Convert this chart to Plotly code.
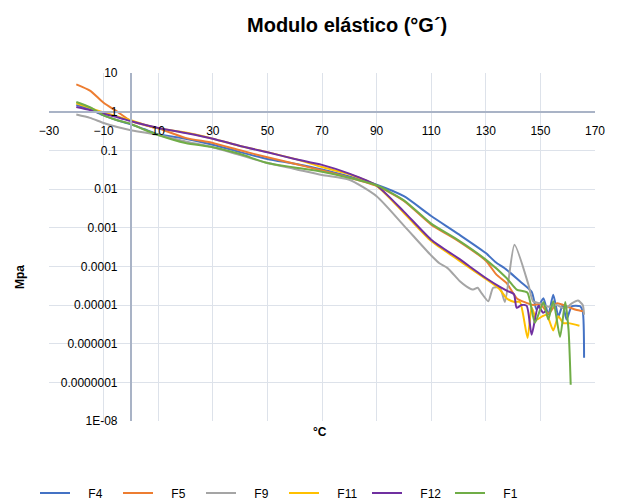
import plotly.graph_objects as go

# ---------------- data (temperature °C, modulus MPa) ----------------
temp_main = [-20, -15, -10, -5, 0, 5, 10, 20, 30, 40, 50, 60, 70, 80, 90, 100, 110, 120, 130]

f4_main = [1.5, 1.15, 0.8, 0.6, 0.47, 0.35, 0.26, 0.2, 0.14, 0.09, 0.06, 0.045, 0.032, 0.021, 0.0129, 0.0065, 0.002, 0.00068, 0.00022]
f4_tail_x = [133.5, 137.6, 142.5, 146.8, 148.6, 151.1, 152.9, 154.7, 156.6, 158.2, 159.6, 161.5, 164.5, 165.5, 166]
f4_tail_y = [1.3e-4, 8.2e-5, 4.1e-5, 2.2e-5, 7.6e-6, 1.5e-5, 5.6e-6, 1.85e-5, 5.1e-6, 1.02e-5, 4.2e-6, 9.3e-6, 9.3e-6, 6.9e-6, 4.3e-7]

f5_main = [5.1, 3.5, 1.7, 1.0, 0.58, 0.45, 0.37, 0.21, 0.155, 0.1, 0.066, 0.045, 0.03, 0.0196, 0.012, 0.0049, 0.0012, 0.00045, 0.00014]
f5_tail_x = [134, 137.6, 141.3, 144, 147.3, 150, 153, 156, 160, 163, 165.6]
f5_tail_y = [6e-5, 3.7e-5, 1.5e-5, 1.2e-5, 1.0e-5, 1.05e-5, 6e-6, 1.1e-5, 9e-6, 7.5e-6, 6.9e-6]

f9_main = [0.84, 0.69, 0.51, 0.4, 0.33, 0.29, 0.25, 0.17, 0.12, 0.075, 0.047, 0.033, 0.023, 0.0174, 0.0065, 0.00113, 0.00019]
f9_tail_x = [113, 116, 120.5, 123, 125.4, 127, 128.5, 130.9, 132.7, 135.2, 137, 140.5, 145.6, 147.3, 150, 153, 156, 159, 161.5, 163.8, 165.5, 166]
f9_tail_y = [1.2e-4, 9e-5, 4.1e-5, 3e-5, 2.5e-5, 2.8e-5, 2e-5, 1.25e-5, 2.8e-5, 2.8e-5, 1.2e-5, 3.6e-4, 3.4e-5, 1.25e-5, 1.1e-5, 9e-6, 1.0e-5, 8e-6, 1.1e-5, 1.3e-5, 1.0e-5, 5.6e-6]

f11_main = [1.65, 1.25, 0.95, 0.75, 0.6, 0.46, 0.37, 0.29, 0.2, 0.13, 0.09, 0.06, 0.037, 0.024, 0.012, 0.0024, 0.00045, 0.000145, 4.7e-5]
f11_tail_x = [135, 137.6, 140.5, 142.5, 145.3, 146.8, 148.6, 150.5, 152.3, 154.7, 156.6, 158.4, 160.3, 164.3]
f11_tail_y = [2.6e-5, 1.5e-5, 1.2e-5, 1.2e-5, 1.4e-6, 8.6e-6, 4.2e-6, 5e-6, 5.6e-6, 2.2e-6, 5.1e-6, 3.4e-6, 3.4e-6, 2.9e-6]

f12_main = [1.32, 1.1, 0.88, 0.72, 0.57, 0.46, 0.38, 0.28, 0.2, 0.13, 0.089, 0.06, 0.042, 0.025, 0.0123, 0.0026, 0.00049, 0.00016, 5e-5]
f12_tail_x = [135, 138, 140.3, 141.3, 143.1, 145, 146.8, 149.2, 151, 152.3]
f12_tail_y = [3e-5, 2.3e-5, 1.9e-5, 8.5e-6, 1e-5, 9.5e-6, 1.7e-6, 9.5e-6, 6.3e-6, 7.5e-6]

f1_main = [1.78, 1.3, 0.8, 0.6, 0.48, 0.34, 0.25, 0.155, 0.12, 0.08, 0.047, 0.036, 0.028, 0.0196, 0.0125, 0.0051, 0.00127, 0.00047, 0.000149]
f1_tail_x = [137.6, 141.3, 145.2, 148, 151.1, 152.9, 154.7, 157.2, 159.1, 160.3, 161.1]
f1_tail_y = [5e-5, 2.5e-5, 2.1e-5, 3.5e-6, 1.2e-5, 4.2e-6, 1.25e-5, 1.5e-6, 1.2e-5, 2.3e-6, 8.7e-8]

series_names = ["F4", "F5", "F9", "F11", "F12", "F1"]
series_colors = ["#4472C4", "#ED7D31", "#A5A5A5", "#FFC000", "#7030A0", "#70AD47"]

y_tickvals = [1e-8, 1e-7, 1e-6, 1e-5, 1e-4, 1e-3, 1e-2, 1e-1, 1, 10]
y_ticktext = ["1E-08", "0.0000001", "0.000001", "0.00001", "0.0001", "0.001", "0.01", "0.1", "1", "10"]

# ---------------- figure ----------------
series = [
    (temp_main + f4_tail_x, f4_main + f4_tail_y),
    (temp_main + f5_tail_x, f5_main + f5_tail_y),
    (temp_main[:len(f9_main)] + f9_tail_x, f9_main + f9_tail_y),
    (temp_main + f11_tail_x, f11_main + f11_tail_y),
    (temp_main + f12_tail_x, f12_main + f12_tail_y),
    (temp_main + f1_tail_x, f1_main + f1_tail_y),
]

fig = go.Figure()
for (xs, ys), name, col in zip(series, series_names, series_colors):
    fig.add_trace(go.Scatter(
        x=xs, y=ys, mode="lines", name="\u00a0\u00a0\u00a0\u00a0" + name,
        line=dict(color=col, width=2, shape="spline", smoothing=0.6),
    ))

FONT = "Liberation Sans, Arial, sans-serif"
W, H = 610, 494  # page body adds an 8px offset
fig.update_layout(
    width=W, height=H,
    margin=dict(l=41, r=23, t=65, b=81, autoexpand=False),
    paper_bgcolor="white", plot_bgcolor="white",
    font=dict(family=FONT, size=12, color="#000000"),
    showlegend=True,
    legend=dict(
        orientation="h", xref="container", x=27 / W, xanchor="left",
        yref="container", y=(H - 485) / H, yanchor="middle",
        entrywidth=38, entrywidthmode="pixels",
        font=dict(size=12), bgcolor="rgba(0,0,0,0)",
        tracegroupgap=0,
    ),
    xaxis=dict(
        range=[-30, 170], tick0=-30, dtick=20,
        showgrid=True, gridcolor="#DDE2EA", gridwidth=1,
        zeroline=False,
        showline=True, linecolor="#A9B3C6", linewidth=2,
        anchor="free", position=8 / 9,
        ticks="outside", ticklen=8, tickcolor="rgba(0,0,0,0)",
        tickfont=dict(size=12),
    ),
    yaxis=dict(
        type="log", range=[-8, 1],
        tickvals=y_tickvals, ticktext=y_ticktext,
        showgrid=True, gridcolor="#DDE2EA", gridwidth=1,
        zeroline=False,
        showline=True, linecolor="#A9B3C6", linewidth=2,
        anchor="free", position=0.15,
        ticks="outside", ticklen=10, tickcolor="rgba(0,0,0,0)",
        tickfont=dict(size=12),
    ),
    annotations=[
        dict(text="<b>Modulo elástico (°G´)</b>", x=(347 - 49) / 546, y=(421 - 25) / 348,
             xref="paper", yref="paper", showarrow=False, font=dict(size=20),
             xanchor="center", yanchor="middle"),
        dict(text="<b>Mpa</b>", x=(20 - 49) / 546, y=(421 - 277) / 348,
             xref="paper", yref="paper", showarrow=False, textangle=-90,
             font=dict(size=12), xanchor="center", yanchor="middle"),
        dict(text="<b>°C</b>", x=(320 - 49) / 546, y=(421 - 432) / 348,
             xref="paper", yref="paper", showarrow=False,
             font=dict(size=12), xanchor="center", yanchor="middle"),
    ],
)

fig.write_html("out.html")
